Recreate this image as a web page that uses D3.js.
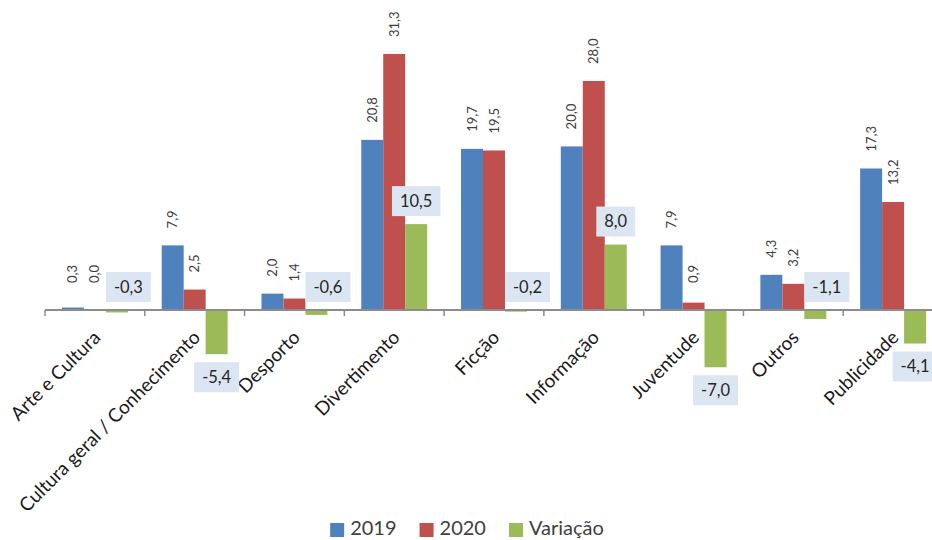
<!DOCTYPE html>
<html>
<head>
<meta charset="utf-8">
<script src="https://cdn.jsdelivr.net/npm/d3@7"></script>
<style>
  html, body { margin: 0; padding: 0; background: #fff; }
  svg { display: block; font-family: Lato, "Open Sans", sans-serif; }
</style>
</head>
<body>
<svg id="chart" width="932" height="540"></svg>
<script>
// Categories and series values (% share)
const categories = [
  "Arte e Cultura",
  "Cultura geral / Conhecimento",
  "Desporto",
  "Divertimento",
  "Ficção",
  "Informação",
  "Juventude",
  "Outros",
  "Publicidade"
];
const seriesNames = ["2019", "2020", "Variação"];
const values2019 = [0.3, 7.9, 2.0, 20.8, 19.7, 20.0, 7.9, 4.3, 17.3];
const values2020 = [0.0, 2.5, 1.4, 31.3, 19.5, 28.0, 0.9, 3.2, 13.2];
const valuesVariacao = [-0.3, -5.4, -0.6, 10.5, -0.2, 8.0, -7.0, -1.1, -4.1];

const colors = ["#4F81BD", "#C0504D", "#9BBB59"];
const seriesValues = [values2019, values2020, valuesVariacao];

const fmt = v => v.toFixed(1).replace(".", ",");

const svg = d3.select("#chart");

const x0 = d3.scaleBand().domain(categories).range([45, 943]).paddingInner(0).paddingOuter(0);
const x1 = d3.scaleBand().domain(seriesNames).range([0, x0.bandwidth()]).paddingInner(0).paddingOuter(0.77);
const y = d3.scaleLinear().domain([-10, 35]).range([391.8, 23.7]);
const base = y(0);

// Rows: one per (category, series)
const rows = [];
categories.forEach((c, i) => {
  seriesNames.forEach((s, j) => {
    rows.push({ cat: c, series: s, si: j, value: seriesValues[j][i] });
  });
});

// Bars
svg.append("g").selectAll("rect")
  .data(rows)
  .join("rect")
  .attr("x", d => x0(d.cat) + x1(d.series))
  .attr("width", x1.bandwidth())
  .attr("y", d => Math.min(y(d.value), base))
  .attr("height", d => Math.abs(y(d.value) - base))
  .attr("fill", d => colors[d.si]);

// Category axis
const axis = svg.append("g");
axis.append("line")
  .attr("x1", x0.range()[0]).attr("x2", x0.range()[1])
  .attr("y1", base).attr("y2", base)
  .attr("stroke", "#8C8C8C").attr("stroke-width", 2);
const tickPos = categories.map(c => x0(c)).concat([x0.range()[1]]);
axis.selectAll("line.tick")
  .data(tickPos)
  .join("line")
  .attr("class", "tick")
  .attr("x1", d => d).attr("x2", d => d)
  .attr("y1", base).attr("y2", base + 6)
  .attr("stroke", "#8C8C8C").attr("stroke-width", 1.5);

axis.selectAll("text.cat")
  .data(categories)
  .join("text")
  .attr("class", "cat")
  .attr("text-anchor", "end")
  .attr("font-size", 19)
  .attr("fill", "#1a1a1a")
  .attr("transform", d => `translate(${x0(d) + x0.bandwidth() / 2 + 2},${base + 24}) rotate(-45)`)
  .attr("dy", "0.35em")
  .text(d => d);

// Rotated value labels for 2019 / 2020
const yearRows = rows.filter(d => d.si < 2);
svg.append("g").selectAll("text")
  .data(yearRows)
  .join("text")
  .attr("font-size", 13)
  .attr("fill", "#404040")
  .attr("text-anchor", "start")
  .attr("transform", d => {
    const cx = x0(d.cat) + x1(d.series) + x1.bandwidth() / 2;
    const bottom = Math.min(y(d.value) - 17, base - 27);
    return `translate(${cx},${bottom}) rotate(-90)`;
  })
  .attr("dy", "0.35em")
  .text(d => fmt(d.value));

// Boxed labels for the variation series
const varRows = rows.filter(d => d.si === 2);
const varG = svg.append("g");
varRows.forEach(d => {
  const bx = x0(d.cat) + x1(d.series);
  const bw = x1.bandwidth();
  const g = varG.append("g");
  const t = g.append("text")
    .attr("font-size", 16.5)
    .attr("fill", "#262626")
    .attr("text-anchor", "middle")
    .attr("dy", "0.35em")
    .text(fmt(d.value));
  const tw = t.node().getComputedTextLength();
  const w = tw + 16, h = 30;
  let left, top;
  if (d.value >= 0) {
    left = bx + bw / 2 - w / 2;
    top = y(d.value) - 8 - h;
  } else if (Math.abs(d.value) < 2) {
    left = bx;
    top = base - 8 - h;
  } else {
    left = bx + bw / 2 - w / 2;
    top = y(d.value) + 8;
  }
  g.insert("rect", "text")
    .attr("x", left).attr("y", top)
    .attr("width", w).attr("height", h)
    .attr("fill", "#DCE6F2");
  t.attr("x", left + w / 2).attr("y", top + h / 2);
});

// Legend
const legend = svg.append("g");
let lx = 0;
seriesNames.forEach((s, i) => {
  const item = legend.append("g").attr("transform", `translate(${lx},0)`);
  item.append("rect").attr("x", 0).attr("y", -12).attr("width", 14).attr("height", 14).attr("fill", colors[i]);
  const t = item.append("text").attr("x", 20).attr("y", 0).attr("font-size", 20).attr("fill", "#404040").text(s);
  lx += 20 + t.node().getComputedTextLength() + 23;
});
const legendW = lx - 23;
legend.attr("transform", `translate(${467 - legendW / 2},535)`);
</script>
</body>
</html>
